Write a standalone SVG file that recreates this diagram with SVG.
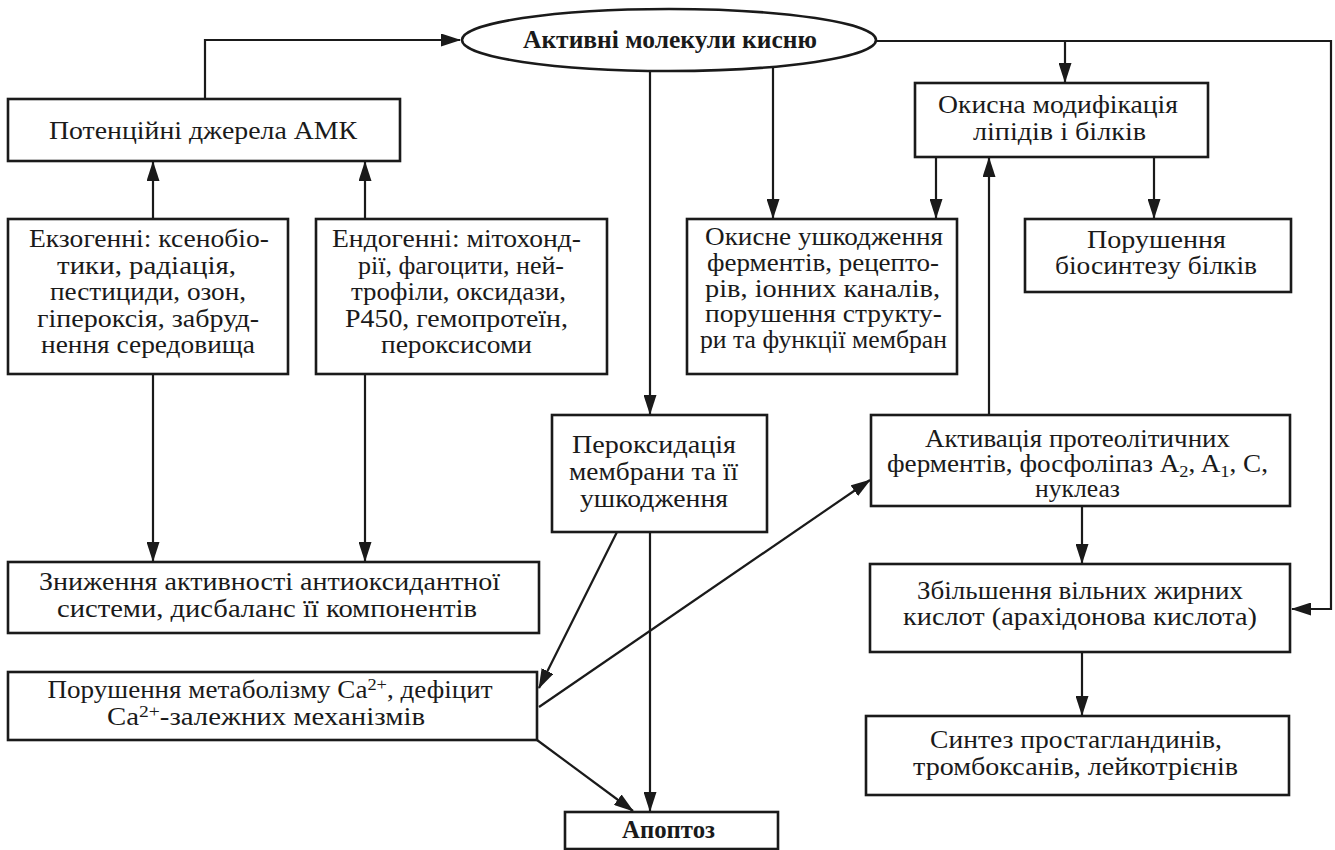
<svg xmlns="http://www.w3.org/2000/svg" width="1335" height="850" viewBox="0 0 1335 850">
<defs>
<marker id="ah" markerWidth="20" markerHeight="13" refX="19" refY="6.5" orient="auto" markerUnits="userSpaceOnUse">
<path d="M0,0 L20,6.5 L0,13 z" fill="#1a1a1a"/>
</marker>
<style>
.box{fill:#fff;stroke:#1a1a1a;stroke-width:2.6}
.t{font-family:"Liberation Serif","Times New Roman",serif;font-size:25px;fill:#1a1a1a;text-anchor:middle}
.b{font-weight:bold}
.c{fill:none;stroke:#1a1a1a;stroke-width:2.2;marker-end:url(#ah)}
</style>
</defs>
<rect width="1335" height="850" fill="#fff"/>

<g id="connectors">
<path class="c" d="M205,99 V40 H460"/>
<path class="c" d="M153,219 V162"/>
<path class="c" d="M365,219 V162"/>
<path class="c" d="M153,374 V561"/>
<path class="c" d="M365,374 V561"/>
<path class="c" d="M650,71 V414"/>
<path class="c" d="M773,67 V218"/>
<path class="c" d="M876,41 H1331 V609 H1292"/>
<path class="c" d="M1065,41 V82"/>
<path class="c" d="M936,157 V218"/>
<path class="c" d="M1154,157 V218"/>
<path class="c" d="M989,415 V158"/>
<path class="c" d="M1082,506 V563"/>
<path class="c" d="M1082,652 V715"/>
<path class="c" d="M617,532 L539,688"/>
<path class="c" d="M539,707 L870,480"/>
<path class="c" d="M650,532 V811"/>
<path class="c" d="M537,740 L633,811"/>
</g>

<g id="n-amk">
<ellipse cx="669" cy="40" rx="207" ry="31" fill="#fff" stroke="#1a1a1a" stroke-width="2.6"/>
<text class="t b" x="670" y="48" font-size="26" textLength="294" lengthAdjust="spacingAndGlyphs">Активні молекули кисню</text>
</g>

<g id="n-sources">
<rect class="box" x="8" y="99" width="392" height="62"/>
<text class="t" x="203" y="139" textLength="308" lengthAdjust="spacingAndGlyphs">Потенційні джерела АМК</text>
</g>

<g id="n-exo">
<rect class="box" x="8" y="219" width="280" height="155"/>
<text class="t" x="149" y="247" textLength="240" lengthAdjust="spacingAndGlyphs">Екзогенні: ксенобіо-</text>
<text class="t" x="146.5" y="273.5" textLength="179" lengthAdjust="spacingAndGlyphs">тики, радіація,</text>
<text class="t" x="148" y="300" textLength="196" lengthAdjust="spacingAndGlyphs">пестициди, озон,</text>
<text class="t" x="148" y="326.5" textLength="222" lengthAdjust="spacingAndGlyphs">гіпероксія, забруд-</text>
<text class="t" x="148" y="353" textLength="214" lengthAdjust="spacingAndGlyphs">нення середовища</text>
</g>

<g id="n-endo">
<rect class="box" x="316" y="219" width="291" height="155"/>
<text class="t" x="456.5" y="247" textLength="249" lengthAdjust="spacingAndGlyphs">Ендогенні: мітохонд-</text>
<text class="t" x="461" y="273.5" textLength="206" lengthAdjust="spacingAndGlyphs">рії, фагоцити, ней-</text>
<text class="t" x="458.5" y="300" textLength="215" lengthAdjust="spacingAndGlyphs">трофіли, оксидази,</text>
<text class="t" x="456.5" y="326.5" textLength="223" lengthAdjust="spacingAndGlyphs">P450, гемопротеїн,</text>
<text class="t" x="456.5" y="353" textLength="151" lengthAdjust="spacingAndGlyphs">пероксисоми</text>
</g>

<g id="n-antiox">
<rect class="box" x="8" y="562" width="531" height="71"/>
<text class="t" x="269.5" y="590" textLength="461" lengthAdjust="spacingAndGlyphs">Зниження активності антиоксидантної</text>
<text class="t" x="267" y="617" textLength="420" lengthAdjust="spacingAndGlyphs">системи, дисбаланс її компонентів</text>
</g>

<g id="n-ca">
<rect class="box" x="8" y="672" width="529" height="68"/>
<text class="t" x="270" y="698" textLength="445" lengthAdjust="spacingAndGlyphs">Порушення метаболізму Ca<tspan font-size="17" dy="-8">2+</tspan><tspan dy="8">, дефіцит</tspan></text>
<text class="t" x="266" y="725" textLength="318" lengthAdjust="spacingAndGlyphs">Ca<tspan font-size="17" dy="-8">2+</tspan><tspan dy="8">-залежних механізмів</tspan></text>
</g>

<g id="n-perox">
<rect class="box" x="552" y="415" width="215" height="117"/>
<text class="t" x="654" y="453" textLength="164" lengthAdjust="spacingAndGlyphs">Пероксидація</text>
<text class="t" x="653.5" y="480" textLength="169" lengthAdjust="spacingAndGlyphs">мембрани та її</text>
<text class="t" x="654" y="507" textLength="148" lengthAdjust="spacingAndGlyphs">ушкодження</text>
</g>

<g id="n-damage">
<rect class="box" x="687" y="219" width="270" height="155"/>
<text class="t" x="824" y="245" textLength="238" lengthAdjust="spacingAndGlyphs">Окисне ушкодження</text>
<text class="t" x="823" y="271" textLength="232" lengthAdjust="spacingAndGlyphs">ферментів, рецепто-</text>
<text class="t" x="822.5" y="297" textLength="235" lengthAdjust="spacingAndGlyphs">рів, іонних каналів,</text>
<text class="t" x="823.5" y="322" textLength="237" lengthAdjust="spacingAndGlyphs">порушення структу-</text>
<text class="t" x="823.5" y="348" textLength="247" lengthAdjust="spacingAndGlyphs">ри та функції мембран</text>
</g>

<g id="n-oxmod">
<rect class="box" x="915" y="83" width="293" height="74"/>
<text class="t" x="1058" y="113" textLength="240" lengthAdjust="spacingAndGlyphs">Окисна модифікація</text>
<text class="t" x="1059.5" y="140" textLength="173" lengthAdjust="spacingAndGlyphs">ліпідів і білків</text>
</g>

<g id="n-biosynth">
<rect class="box" x="1025" y="219" width="266" height="73"/>
<text class="t" x="1156.5" y="248" textLength="139" lengthAdjust="spacingAndGlyphs">Порушення</text>
<text class="t" x="1156" y="274" textLength="202" lengthAdjust="spacingAndGlyphs">біосинтезу білків</text>
</g>

<g id="n-activ">
<rect class="box" x="871" y="415" width="419" height="91"/>
<text class="t" x="1077.5" y="447" textLength="305" lengthAdjust="spacingAndGlyphs">Активація протеолітичних</text>
<text class="t" x="1077.5" y="472" textLength="381" lengthAdjust="spacingAndGlyphs">ферментів, фосфоліпаз A<tspan font-size="17" dy="5">2</tspan><tspan dy="-5">, A</tspan><tspan font-size="17" dy="5">1</tspan><tspan dy="-5">, C,</tspan></text>
<text class="t" x="1077.5" y="497" textLength="85" lengthAdjust="spacingAndGlyphs">нуклеаз</text>
</g>

<g id="n-fatty">
<rect class="box" x="870" y="564" width="420" height="88"/>
<text class="t" x="1080" y="599" textLength="326" lengthAdjust="spacingAndGlyphs">Збільшення вільних жирних</text>
<text class="t" x="1080" y="625" textLength="354" lengthAdjust="spacingAndGlyphs">кислот (арахідонова кислота)</text>
</g>

<g id="n-synth">
<rect class="box" x="866" y="716" width="423" height="79"/>
<text class="t" x="1076" y="748" textLength="292" lengthAdjust="spacingAndGlyphs">Синтез простагландинів,</text>
<text class="t" x="1075.5" y="775" textLength="325" lengthAdjust="spacingAndGlyphs">тромбоксанів, лейкотрієнів</text>
</g>

<g id="n-apopt">
<rect class="box" x="565" y="812" width="213" height="37"/>
<text class="t b" x="668.5" y="838" font-size="24" textLength="93" lengthAdjust="spacingAndGlyphs">Апоптоз</text>
</g>
</svg>
